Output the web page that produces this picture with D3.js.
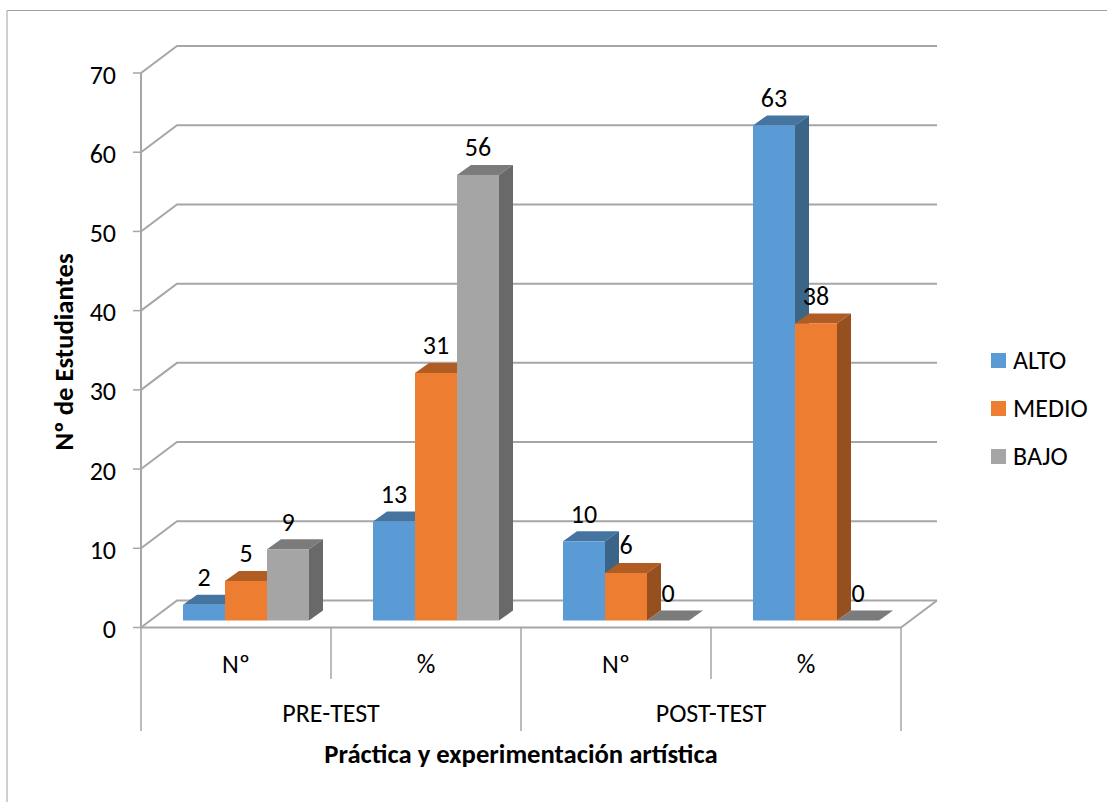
<!DOCTYPE html>
<html><head><meta charset="utf-8">
<script src="https://cdn.jsdelivr.net/npm/d3@7/dist/d3.min.js"></script>
<style>html,body{margin:0;padding:0;background:#fff}svg{display:block}text{font-family:Carlito,Lato,"Open Sans",sans-serif;fill:#000}</style>
</head><body><svg id="c" width="1107" height="802"></svg>
<script>
const outerCategories = ["PRE-TEST", "POST-TEST"];
const innerCategories = ["Nº", "%", "Nº", "%"];
const seriesNames = ["ALTO", "MEDIO", "BAJO"];
const alto = [2, 12.5, 10, 62.5];
const medio = [5, 31.25, 6, 37.5];
const bajo = [9, 56.25, 0, 0];
const yTicks = [0, 10, 20, 30, 40, 50, 60, 70];
const frontColors = ["#5b9bd5", "#ed7d31", "#a5a5a5"];
const topColors = ["#44749f", "#b05d24", "#7b7b7b"];
const sideColors = ["#3a6587", "#964f1f", "#696969"];
const yTitle = "Nº de Estudiantes";
const xTitle = "Práctica y experimentación artística";

const svg = d3.select("#c");
const series = [alto, medio, bajo];
const y = d3.scaleLinear().domain([0, 70]).range([627.5, 73]);
const xOuter = d3.scaleBand().domain(d3.range(4)).range([141, 901]);
const floorY = 620.5;
const barH = v => y(0) - y(v);
const xBar = d3.scaleBand().domain(d3.range(3)).range([42, 168]);
const dx = 14, dy = 10, wallDx = 36, wallDy = 27;
const grid = "#a6a6a6";

// outer frame
svg.append("path").attr("d","M7 802V10.5H1107").attr("fill","none").attr("stroke","#a0a0a0").attr("stroke-width",1);

// gridlines, wall and floor
yTicks.forEach(t=>{
  const yy=y(t);
  svg.append("path").attr("d",d3.line()([[141,yy],[141+wallDx,yy-wallDy],[937,yy-wallDy]]))
    .attr("fill","none").attr("stroke",grid).attr("stroke-width",2);
  svg.append("line").attr("x1",133).attr("x2",141).attr("y1",yy).attr("y2",yy).attr("stroke",grid).attr("stroke-width",1.5);
  svg.append("text").attr("x",116).attr("y",yy+1.5).attr("dy","0.35em").attr("text-anchor","end").attr("font-size",26).text(t);
});
svg.append("line").attr("x1",141).attr("x2",141).attr("y1",y(70)).attr("y2",y(0)).attr("stroke",grid).attr("stroke-width",2);
svg.append("path").attr("d",d3.line()([[141,y(0)],[901,y(0)],[937,y(0)-wallDy]])).attr("fill","none").attr("stroke",grid).attr("stroke-width",2);

// category axis dividers
[0,1,2,3,4].forEach(i=>{
  const x=i===4?901:xOuter(i);
  const long=i%2===0;
  svg.append("line").attr("x1",x).attr("x2",x).attr("y1",y(0)).attr("y2",long?731:679).attr("stroke",grid).attr("stroke-width",1.5);
});
innerCategories.forEach((c,i)=>{
  svg.append("text").attr("x",xOuter(i)+95).attr("y",673).attr("text-anchor","middle").attr("font-size",26).text(c);
});
outerCategories.forEach((c,i)=>{
  svg.append("text").attr("x",xOuter(i*2)+190).attr("y",722).attr("text-anchor","middle").attr("font-size",26).text(c);
});

// bars: draw back-to-front
d3.range(4).forEach(g=>{
  series.forEach((s,k)=>{
    const v=s[g], x0=xOuter(g)+xBar(k), w=xBar.bandwidth(), h=barH(v), top=floorY-h;
    const gg=svg.append("g");
    gg.append("path").attr("d",`M${x0} ${top}l${dx} ${-dy}h${w}l${-dx} ${dy}Z`).attr("fill",topColors[k]);
    gg.append("path").attr("d",`M${x0+w} ${top}l${dx} ${-dy}v${h}l${-dx} ${dy}Z`).attr("fill",sideColors[k]);
    gg.append("rect").attr("x",x0).attr("y",top).attr("width",w).attr("height",h).attr("fill",frontColors[k]);
  });
});
// value labels on top
d3.range(4).forEach(g=>{
  series.forEach((s,k)=>{
    const v=s[g], x0=xOuter(g)+xBar(k), w=xBar.bandwidth(), top=floorY-barH(v);
    svg.append("text").attr("x",x0+w/2).attr("y",top-18.5).attr("text-anchor","middle").attr("font-size",26).text(Math.round(v));
  });
});

// axis titles
svg.append("text").attr("transform","translate(73,352) rotate(-90)").attr("text-anchor","middle").attr("font-size",26.7).attr("font-weight","bold").text(yTitle);
svg.append("text").attr("x",521).attr("y",763).attr("text-anchor","middle").attr("font-size",26.7).attr("font-weight","bold").text(xTitle);

// legend
seriesNames.forEach((n,i)=>{
  const yy=360.5+i*48;
  svg.append("rect").attr("x",991).attr("y",yy-7.5).attr("width",15).attr("height",15).attr("fill",frontColors[i]);
  svg.append("text").attr("x",1013).attr("y",yy-1).attr("dy","0.35em").attr("font-size",26).text(n);
});
</script></body></html>
